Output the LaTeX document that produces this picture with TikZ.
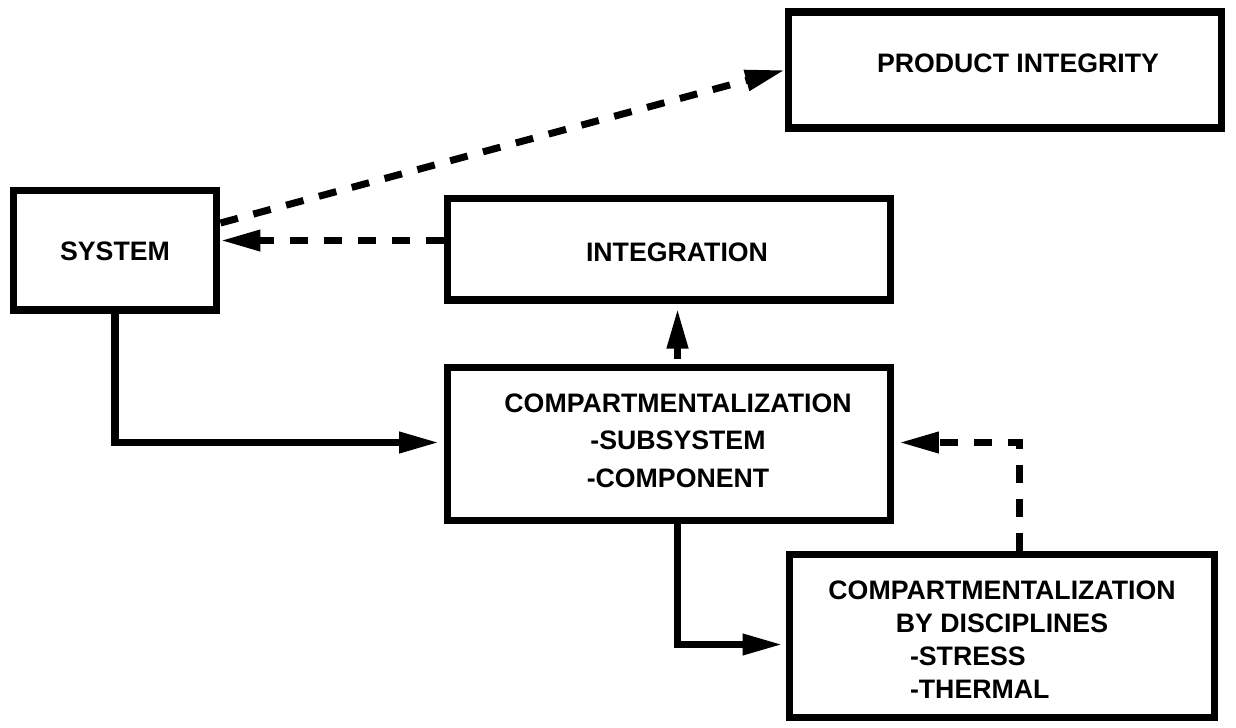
\documentclass[tikz,border=0pt]{standalone}
\usepackage{fontspec}
\setmainfont{Liberation Sans}
\usetikzlibrary{arrows.meta}

\begin{document}
\begin{tikzpicture}[x=0.02cm, y=-0.02cm,
    box/.style = {draw, line width=4pt},
    txt/.style = {align=center, inner sep=0pt,
      font=\bfseries\fontsize{15.2}{18.8}\selectfont},
    solidarrow/.style = {line width=4pt, -{Triangle[length=0.8cm,width=0.4cm]}},
    dasharrow/.style = {solidarrow, dash pattern=on 0.36cm off 0.32cm}]
  \useasboundingbox (0,0) rectangle (1236,727);
  \node[box, minimum width=8.66cm, minimum height=2.32cm] (prod) at (1005,70) {};
  \node[box, minimum width=4.08cm, minimum height=2.4cm] (sys) at (115,250) {};
  \node[box, minimum width=8.86cm, minimum height=2.04cm] (integ) at (669,249) {};
  \node[box, minimum width=8.86cm, minimum height=3.06cm] (comp) at (669,444) {};
  \node[box, minimum width=8.52cm, minimum height=3.26cm] (disc) at (1002,636) {};

  \node[txt] (prodtext) at ([xshift=0.26cm, yshift=0.14cm]prod.center) {PRODUCT INTEGRITY};
  \node[txt] (systext) at ([yshift=-0.02cm]sys.center) {SYSTEM};
  \node[txt] (integtext) at ([xshift=0.16cm, yshift=-0.06cm]integ.center) {INTEGRATION};
  \node[txt, font=\bfseries\fontsize{15.2}{21.3}\selectfont] (comptext)
    at ([xshift=0.18cm, yshift=0.07cm]comp.center) {COMPARTMENTALIZATION\\-SUBSYSTEM\\-COMPONENT};
  \node[txt] (disctext) at ([yshift=-0.08cm]disc.center)
    {COMPARTMENTALIZATION\\BY DISCIPLINES\\
     \makebox[4.22cm][l]{\hspace{0.27cm}-STRESS}\\
     \makebox[4.22cm][l]{\hspace{0.27cm}-THERMAL}};

  \draw[dasharrow] ([yshift=0.54cm]sys.east) -- (prod.west);
  \draw[dasharrow] ([yshift=0.17cm]integ.west) -- ([yshift=0.17cm]integ.west -| sys.east);
  \draw[solidarrow] ([xshift=0.17cm,yshift=0.1cm]comp.north) -- ([xshift=0.17cm,yshift=-0.1cm]integ.south);
  \draw[solidarrow, shorten >=0.1cm] (sys.south) |- ([yshift=0.03cm]comp.west);
  \draw[dasharrow, shorten >=0.1cm] ([xshift=0.34cm]disc.north) |- ([yshift=0.03cm]comp.east);
  \draw[solidarrow, shorten >=0.06cm] ([xshift=0.17cm]comp.south) |- ([yshift=-0.17cm]disc.west);
\end{tikzpicture}
\end{document}
